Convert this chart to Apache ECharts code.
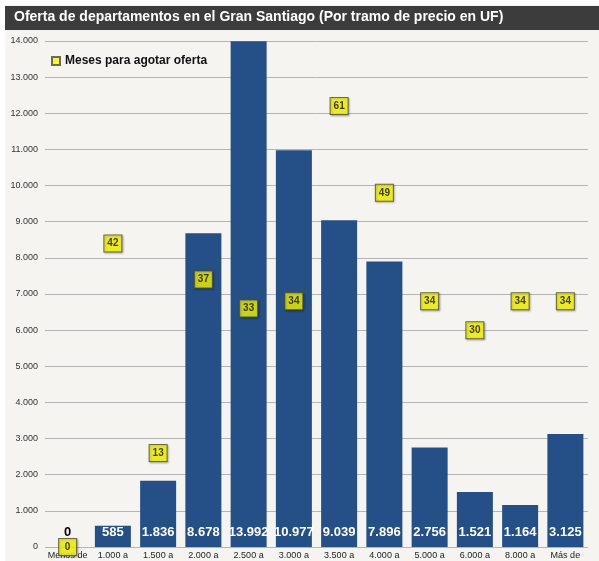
<!DOCTYPE html>
<html><head><meta charset="utf-8">
<script src="https://cdn.jsdelivr.net/npm/echarts@6/dist/echarts.min.js"></script>
<style>html,body{margin:0;padding:0;background:#fff}#c{width:599px;height:561px}</style>
</head><body><div id="c"></div>
<script>
const categories = ['Menos de','1.000 a','1.500 a','2.000 a','2.500 a','3.000 a','3.500 a','4.000 a','5.000 a','6.000 a','8.000 a','Más de'];
const oferta = [0, 585, 1836, 8678, 13992, 10977, 9039, 7896, 2756, 1521, 1164, 3125];
const meses = [0, 42, 13, 37, 33, 34, 61, 49, 34, 30, 34, 34];
const titleText = 'Oferta de departamentos en el Gran Santiago (Por tramo de precio en UF)';
const legendName = 'Meses para agotar oferta';

function fmt(v){return String(v).replace(/\B(?=(\d{3})+(?!\d))/g,'.');}

const chart = echarts.init(document.getElementById('c'), null, {renderer:'canvas'});
chart.setOption({
  backgroundColor: '#fff',
  animation: false,
  textStyle: {fontFamily: 'Liberation Sans, Arial, sans-serif'},
  graphic: [
    {type:'rect', left:5, top:5, shape:{width:594, height:556}, style:{fill:'#f5f4f0'}, z:-10},
    {type:'rect', left:5, top:6, shape:{width:594, height:24}, style:{fill:'#3c3c3c'}, z:-5},
    {type:'text', left:14, top:10, style:{text:titleText, fill:'#fff', font:'bold 14px "Liberation Sans", Arial, sans-serif'}}
  ],
  legend: {
    data:[legendName], left:46, top:50, icon:'rect', itemWidth:8, itemHeight:8, itemGap:6,
    textStyle:{fontWeight:'bold', fontSize:12, color:'#111'}
  },
  grid: {left:45, right:11, top:41, bottom:14, containLabel:false},
  xAxis: {
    type:'category', data:categories,
    axisLine:{show:false}, axisTick:{show:false},
    axisLabel:{fontSize:9, color:'#222', margin:4, interval:0}
  },
  yAxis: [
    {type:'value', min:0, max:14000, interval:1000,
     axisLabel:{formatter:fmt, fontSize:9, color:'#333', margin:7},
     axisLine:{show:false}, axisTick:{show:false},
     splitLine:{lineStyle:{color:'#b4b4b4', width:1}}},
    {type:'value', min:0, max:70, show:false, splitLine:{show:false}}
  ],
  series: [
    {type:'bar', name:'Oferta', barWidth:36, yAxisIndex:0,
     itemStyle:{color:'#254f87'},
     data: oferta.map(v => v === 0 ? {value:v, label:{position:'top', color:'#000', distance:8}} : v),
     label:{show:true, position:'insideBottom', distance:8, color:'#fff', fontWeight:'bold', fontSize:13, formatter:p=>fmt(p.value)}
    },
    {type:'scatter', name:legendName, yAxisIndex:1, symbol:'rect', symbolSize:[18,17],
     itemStyle:{color:'#f7f700', borderColor:'#4a4a3a', borderWidth:1, shadowColor:'rgba(0,0,0,0.3)', shadowBlur:2, shadowOffsetX:1, shadowOffsetY:1},
     label:{show:true, position:'inside', color:'#111', fontWeight:'bold', fontSize:10},
     data: meses, z:5
    }
  ]
});
</script></body></html>
